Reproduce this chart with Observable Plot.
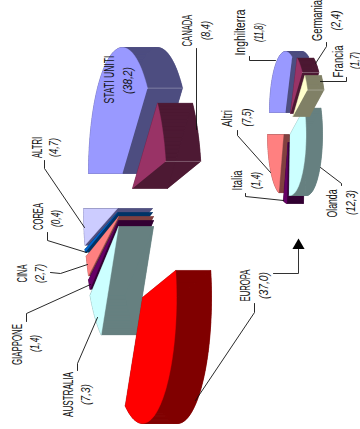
<!DOCTYPE html>
<html><head><meta charset="utf-8">
<style>html,body{margin:0;padding:0;background:#fff}svg{display:block}</style>
<script src="https://cdn.jsdelivr.net/npm/d3@7"></script>
<script src="https://cdn.jsdelivr.net/npm/@observablehq/plot@0.6"></script>
</head><body><div id="chart"></div>
<script>
// ---- data (percent shares, clockwise round each pie) ----
const worldNames  = ["STATI UNITI","CANADA","EUROPA","AUSTRALIA","GIAPPONE","CINA","COREA","ALTRI"];
const worldValues = [38.2,8.4,37.0,7.3,1.4,2.7,0.4,4.7];
const europeNames  = ["Inghilterra","Germania","Francia","Olanda","Italia","Altri"];
const europeValues = [11.8,2.4,1.7,12.3,1.4,7.5];

// ---- styling and layout, kept apart from the values ----
const palette = {
  "ALTRI":["#ccccff","#505080"],"COREA":["#0066cc","#003366"],"CINA":["#ff8080","#804040"],
  "GIAPPONE":["#660066","#330033"],"AUSTRALIA":["#ccffff","#668080"],"EUROPA":["#ff0000","#800000"],
  "STATI UNITI":["#9999ff","#4d4d80"],"CANADA":["#993366","#4d1933"],
  "Altri":["#ff8080","#804040"],"Italia":["#660066","#330033"],"Olanda":["#ccffff","#668080"],
  "Inghilterra":["#9999ff","#4d4d80"],"Germania":["#993366","#4d1933"],"Francia":["#ffffcc","#808066"]
};
const apexes = {
  "ALTRI":[117,208],"COREA":[117,212],"CINA":[118,216],"GIAPPONE":[118,220],"AUSTRALIA":[118,226],
  "EUROPA":[142,297],"STATI UNITI":[122,173],"CANADA":[132,188],
  "Altri":[283,134],"Italia":[287.5,142],"Olanda":[289.5,134],
  "Inghilterra":[285,112],"Germania":[290,113],"Francia":[292.5,116]
};
const ridgeSlices = ["STATI UNITI","CANADA","Germania","Francia"];
const pies = [
  {names:worldNames, values:worldValues, rx:34, ry:126, depth:35, first:-90,
   paint:["ALTRI","COREA","CINA","GIAPPONE","AUSTRALIA","EUROPA","STATI UNITI","CANADA"]},
  {names:europeNames, values:europeValues, rx:16, ry:61, depth:16.5, first:-90,
   paint:["Altri","Italia","Olanda","Inghilterra","Germania","Francia"]}
];
const labelPos = {
  "STATI UNITI":[[109,79],[127,80]],"CANADA":[[187,30],[205,30]],"ALTRI":[[37,147],[53,147]],
  "COREA":[[38,216],[55,218]],"CINA":[[22,273],[39,273]],"GIAPPONE":[[17,344],[34,343]],
  "AUSTRALIA":[[68,394],[85,394]],"EUROPA":[[245,285],[263,285]],"Inghilterra":[[240,32],[258,32]],
  "Germania":[[317,20],[335,20]],"Francia":[[338,61],[354,60]],"Altri":[[227,118],[246,117]],
  "Italia":[[237,180],[255,180]],"Olanda":[[332,203],[350,202]]
};
const labelLengths = {
  "STATI UNITI":48,"(38,2)":27,"CANADA":32,"(8,4)":19,"ALTRI":21,"(4,7)":19,"COREA":27,"(0,4)":17,
  "CINA":18,"(2,7)":19,"GIAPPONE":41,"(1,4)":17,"AUSTRALIA":45,"(7,3)":21,"EUROPA":32,"(37,0)":27,
  "Inghilterra":46,"(11,8)":19,"Germania":41,"(2,4)":20,"Francia":32,"(1,7)":17,"Altri":17,"(7,5)":18,
  "Italia":20,"Olanda":28,"(12,3)":25
};
const leaders = [
  [[196,48],[196,129]],[[44,160],[44,168],[84,227]],[[47,232],[47,240],[86,252]],
  [[50,272],[60,273],[87,264]],[[26,321],[26,313],[90,284]],[[77,370],[77,363],[97,317]],
  [[254,303],[254,312],[195,400]],[[249,56],[249,60],[275,60]],[[326,42],[326,46],[315,63]],
  [[346,77],[346,81],[320,81]],[[237,130],[237,135],[270,172]],[[245,193],[245,196],[283,200]],
  [[341,185],[341,183],[320,167]]
];
const arrow = [[273,273],[298,273],[298,246]];
const arrowHead = [[298,245]];

// ---- geometry derived from the values ----
const polys = [], ridges = [];
let pid = 0;
function addPoly(pts, fill){ const id = pid++; pts.forEach(p => polys.push({id, x:p[0], y:p[1], fill})); }
pies.forEach(pie => {
  const total = d3.sum(pie.values);
  let theta = pie.first;
  const spans = new Map();
  pie.names.forEach((name,i) => {
    const span = 360*pie.values[i]/total;
    spans.set(name,[theta,span]);
    theta += span;
  });
  pie.paint.forEach(name => {
    const [t0,span] = spans.get(name);
    const [cx,cy] = apexes[name];
    const [top,wall] = palette[name];
    const n = Math.max(2, Math.ceil(span/2));
    const arc = d3.range(n+1).map(k => {
      const t = (t0 + span*k/n)*Math.PI/180;
      return [cx + pie.rx*Math.sin(t), cy - pie.ry*Math.cos(t)];
    });
    const d = pie.depth;
    const shift = p => [p[0]+d, p[1]];
    const c = [cx,cy];
    const outline = [c, ...arc, c];
    for (let k=0;k<outline.length-1;k++){
      addPoly([outline[k],outline[k+1],shift(outline[k+1]),shift(outline[k])], wall);
    }
    addPoly([c,...arc].map(shift), wall);
    addPoly([c,...arc], top);
    if (ridgeSlices.includes(name)) {
      const end = name === "STATI UNITI" ? arc[n] : (name === "CANADA" ? arc[n] : arc[n]);
      ridges.push([end,shift(end)]);
    }
  });
});

const toRows = a => a.map(p => ({x:p[0],y:p[1]}));
const texts = [];
[[worldNames,worldValues],[europeNames,europeValues]].forEach(([ns,vs]) => ns.forEach((n,i) => {
  texts.push({x:labelPos[n][0][0],y:labelPos[n][0][1],t:n,style:"normal"});
  texts.push({x:labelPos[n][1][0],y:labelPos[n][1][1],t:"("+vs[i].toFixed(1).replace(".",",")+")",style:"italic"});
}));

const plot = Plot.plot({
  width:360,height:429,margin:0,
  x:{domain:[0,360],range:[0,360],axis:null},
  y:{domain:[0,429],range:[0,429],axis:null},
  color:{type:"identity"},
  marks:[
    Plot.line(polys,{x:"x",y:"y",z:"id",fill:"fill",stroke:"fill",strokeWidth:0.4,curve:"linear"}),
    ...ridges.map(l => Plot.line(toRows(l),{x:"x",y:"y",stroke:"#fff",strokeOpacity:0.4,strokeWidth:0.7,curve:"linear"})),
    ...leaders.map(l => Plot.line(toRows(l),{x:"x",y:"y",stroke:"#111",strokeWidth:0.9,curve:"linear"})),
    Plot.line(toRows(arrow),{x:"x",y:"y",stroke:"#333",strokeWidth:1,curve:"linear"}),
    Plot.dot(toRows(arrowHead),{x:"x",y:"y",symbol:"triangle",r:4.5,fill:"#000"}),
    Plot.text(texts.filter(d=>d.style=="normal"),{x:"x",y:"y",text:"t",rotate:-90,fontSize:14.5,fontFamily:"Liberation Sans",fill:"#111"}),
    Plot.text(texts.filter(d=>d.style=="italic"),{x:"x",y:"y",text:"t",rotate:-90,fontSize:13.5,fontStyle:"italic",fontFamily:"Liberation Sans",fill:"#111"})
  ]
});
d3.select(plot).selectAll("text").each(function(){
  const len = labelLengths[this.textContent.trim()];
  if (len) { this.setAttribute("textLength",len); this.setAttribute("lengthAdjust","spacingAndGlyphs"); }
});
document.getElementById("chart").append(plot);
</script></body></html>
